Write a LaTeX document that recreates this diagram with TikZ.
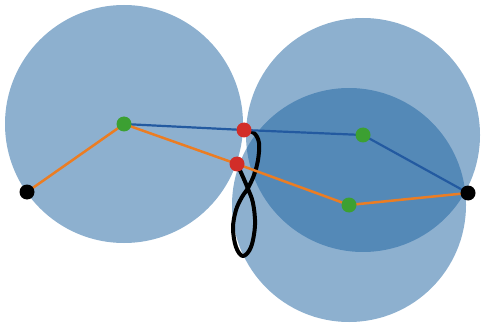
\documentclass[tikz,border=0pt]{standalone}
\usepackage{tikz}

\definecolor{zoneblue}{RGB}{28,98,160}
\definecolor{pathblue}{RGB}{35,90,160}
\definecolor{pathorange}{RGB}{235,125,35}
\definecolor{ptgreen}{RGB}{60,160,50}
\definecolor{ptred}{RGB}{210,45,40}

\begin{document}
\begin{tikzpicture}[x=1pt, y=-1pt,
    zone/.style={fill=zoneblue, fill opacity=0.5},
    dot/.style={circle, inner sep=0pt, minimum size=15pt},
    blueline/.style={draw=pathblue, line width=2.2pt},
    orangeline/.style={draw=pathorange, line width=2.5pt}]
    \useasboundingbox (0,0) rectangle (481,323);

    % points
    \coordinate (bL) at (27,192);
    \coordinate (bR) at (468,193);
    \coordinate (gL) at (124,124);
    \coordinate (gU) at (363,135);
    \coordinate (gD) at (349,205);
    \coordinate (rU) at (244,130);
    \coordinate (rD) at (237,164);

    % zones round the green points
    \fill[zone] (gL) circle[radius=119];
    \fill[zone] (gU) circle[radius=117];
    \fill[zone] (gD) circle[radius=117];

    % figure-eight loop
    \draw[line width=4pt, line join=round] plot[smooth, tension=0.6] coordinates {
        (rD) (243,177) (248,189) (253,203) (255,225) (251,247) (243,256)
        (236,247) (233,228) (236,210) (242,197) (248,188) (254,175)
        (258,160) (259,143) (254,133) (rU)};

    % two paths
    \draw[blueline] (gL) -- (rU) -- (gU) -- (bR);
    \draw[orangeline] (bL) -- (gL) -- (rD) -- (gD) -- (bR);

    % dots
    \node[dot, fill=black] (dotBL) at (bL) {};
    \node[dot, fill=black] (dotBR) at (bR) {};
    \node[dot, fill=ptgreen] (dotGL) at (gL) {};
    \node[dot, fill=ptgreen] (dotGU) at (gU) {};
    \node[dot, fill=ptgreen] (dotGD) at (gD) {};
    \node[dot, fill=ptred] (dotRU) at (rU) {};
    \node[dot, fill=ptred] (dotRD) at (rD) {};
\end{tikzpicture}
\end{document}
